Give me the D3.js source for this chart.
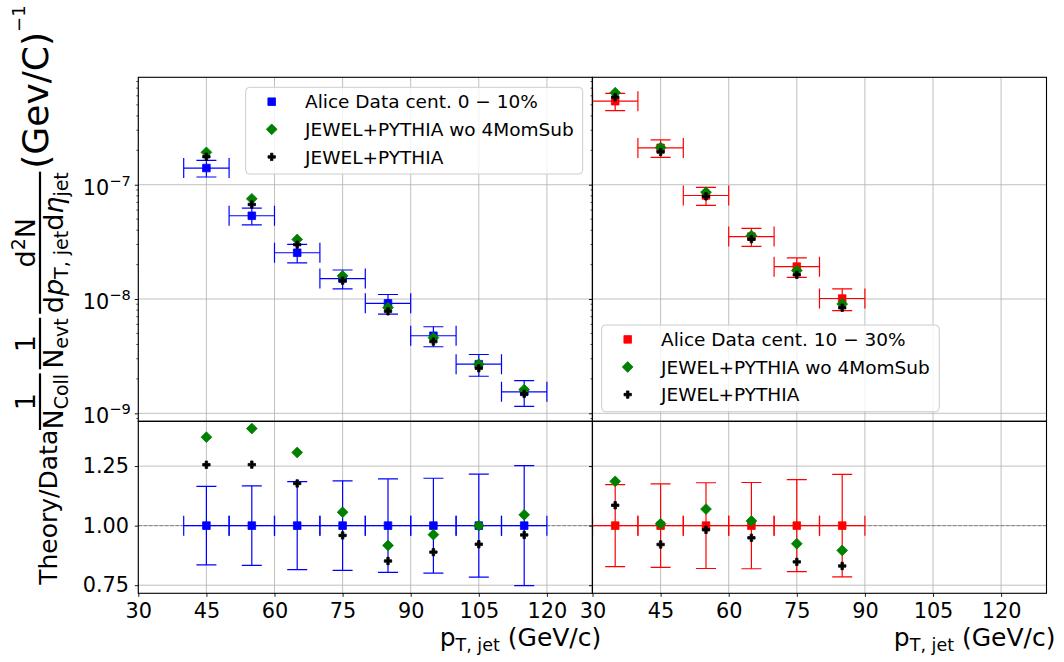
<!DOCTYPE html>
<html><head><meta charset="utf-8">
<script src="https://cdn.jsdelivr.net/npm/d3@7"></script>
<style>
body{margin:0;background:#fff}
svg{display:block}
text{font-family:"DejaVu Sans",sans-serif;fill:#000}
</style>
</head><body>
<svg id="c" width="1064" height="662"></svg>
<script>
// ---------------- data ----------------
const xTickValues = [30, 45, 60, 75, 90, 105, 120];
const logTickValues = [1e-9, 1e-8, 1e-7];
const ratioTickValues = [0.75, 1.00, 1.25];
const binHalfWidth = 5;

const ptCentLeft   = [45, 55, 65, 75, 85, 95, 105, 115];
const dataLeft     = [1.40e-7, 5.35e-8, 2.54e-8, 1.51e-8, 9.16e-9, 4.77e-9, 2.69e-9, 1.54e-9];
const relErrLeft   = [0.165, 0.167, 0.185, 0.188, 0.196, 0.199, 0.216, 0.252];
const jewelWoLeft  = [1.92e-7, 7.53e-8, 3.32e-8, 1.595e-8, 8.40e-9, 4.59e-9, 2.69e-9, 1.61e-9];
const jewelLeft    = [1.758e-7, 6.72e-8, 2.99e-8, 1.448e-8, 7.80e-9, 4.24e-9, 2.48e-9, 1.48e-9];

const ptCentRight  = [35, 45, 55, 65, 75, 85];
const dataRight    = [5.38e-7, 2.10e-7, 8.05e-8, 3.52e-8, 1.92e-8, 1.01e-8];
const relErrRight  = [0.172, 0.175, 0.180, 0.181, 0.193, 0.215];
const jewelWoRight = [6.38e-7, 2.117e-7, 8.61e-8, 3.59e-8, 1.774e-8, 9.05e-9];
const jewelRight   = [5.84e-7, 1.934e-7, 7.91e-8, 3.34e-8, 1.628e-8, 8.39e-9];

const legendLeftLabels  = ["Alice Data cent. 0 \u2212 10%", "JEWEL+PYTHIA wo 4MomSub", "JEWEL+PYTHIA"];
const legendRightLabels = ["Alice Data cent. 10 \u2212 30%", "JEWEL+PYTHIA wo 4MomSub", "JEWEL+PYTHIA"];

// ---------------- layout ----------------
const svg = d3.select("#c");
const TOP = {y0: 77.3, y1: 421.3};
const BOT = {y0: 421.3, y1: 593.3};
const panelX = [[138.3, 592.3], [592.5, 1046.5]];
const tickFont = 20.8;
const GREEN = "#008000";

const yTop = d3.scaleLog().domain([Math.pow(10, -9.07), Math.pow(10, -6.06)]).range([TOP.y1, TOP.y0]);
const yBot = d3.scaleLinear().domain([0.716, 1.438]).range([BOT.y1, BOT.y0]);

const panels = [
  {pt: ptCentLeft, data: dataLeft, err: relErrLeft, wo: jewelWoLeft, jw: jewelLeft, color: "#0000ff",
   legend: legendLeftLabels, box: {x: 245.7, y: 87.3, w: 337, h: 86.7}, yLabels: true},
  {pt: ptCentRight, data: dataRight, err: relErrRight, wo: jewelWoRight, jw: jewelRight, color: "#ff0000",
   legend: legendRightLabels, box: {x: 601.7, y: 325, w: 337.6, h: 86.7}, yLabels: false}
];

// marker paths
function squarePath(s){ const h=s/2; return `M${-h},${-h}H${h}V${h}H${-h}Z`; }
function diamondPath(r){ return `M0,${-r}L${r},0L0,${r}L${-r},0Z`; }
function plusPath(s){
  const pts=[[-1,-3],[1,-3],[1,-1],[3,-1],[3,1],[1,1],[1,3],[-1,3],[-1,1],[-3,1],[-3,-1],[-1,-1]];
  return "M"+pts.map(p=>[p[0]*s/6,p[1]*s/6].join(",")).join("L")+"Z";
}
function marker(g, kind, color, x, y){
  let d;
  if(kind==="square") d=squarePath(7.6);
  else if(kind==="diamond") d=diamondPath(5.4);
  else d=plusPath(7.4);
  g.append("path").attr("d", d).attr("transform", `translate(${x},${y})`)
    .attr("fill", color).attr("stroke", color).attr("stroke-width", 0.8);
}

const defs = svg.append("defs");

panels.forEach((P, i) => {
  const x = d3.scaleLinear().domain([30, 130]).range(panelX[i]);
  const [xl, xr] = panelX[i];
  const cid = "clip" + i;
  defs.append("clipPath").attr("id", cid + "t").append("rect")
    .attr("x", xl).attr("y", TOP.y0).attr("width", xr - xl).attr("height", TOP.y1 - TOP.y0);
  defs.append("clipPath").attr("id", cid + "b").append("rect")
    .attr("x", xl).attr("y", BOT.y0).attr("width", xr - xl).attr("height", BOT.y1 - BOT.y0);

  // grid
  const grid = svg.append("g").attr("stroke", "#b0b0b0").attr("stroke-width", 0.8);
  xTickValues.forEach(v => {
    grid.append("line").attr("x1", x(v)).attr("x2", x(v)).attr("y1", TOP.y0).attr("y2", BOT.y1);
  });
  logTickValues.forEach(v => {
    grid.append("line").attr("x1", xl).attr("x2", xr).attr("y1", yTop(v)).attr("y2", yTop(v));
  });
  ratioTickValues.forEach(v => {
    grid.append("line").attr("x1", xl).attr("x2", xr).attr("y1", yBot(v)).attr("y2", yBot(v));
  });

  // unity dashed line
  svg.append("line").attr("x1", xl).attr("x2", xr).attr("y1", yBot(1)).attr("y2", yBot(1))
    .attr("stroke", "#808080").attr("stroke-width", 1).attr("stroke-dasharray", "3.7,1.6");

  const cap = 10;
  // ---- top panel ----
  const gt = svg.append("g").attr("clip-path", `url(#${cid}t)`);
  const eb = gt.append("g").attr("stroke", P.color).attr("stroke-width", 1.2).attr("fill", "none");
  P.pt.forEach((pt, j) => {
    const cx = x(pt), cy = yTop(P.data[j]);
    const xa = x(pt - binHalfWidth), xb = x(pt + binHalfWidth);
    const ya = yTop(P.data[j] * (1 + P.err[j])), yb = yTop(P.data[j] * (1 - P.err[j]));
    eb.append("line").attr("x1", xa).attr("x2", xb).attr("y1", cy).attr("y2", cy);
    eb.append("line").attr("x1", xa).attr("x2", xa).attr("y1", cy - cap).attr("y2", cy + cap);
    eb.append("line").attr("x1", xb).attr("x2", xb).attr("y1", cy - cap).attr("y2", cy + cap);
    eb.append("line").attr("x1", cx).attr("x2", cx).attr("y1", ya).attr("y2", yb);
    eb.append("line").attr("x1", cx - cap).attr("x2", cx + cap).attr("y1", ya).attr("y2", ya);
    eb.append("line").attr("x1", cx - cap).attr("x2", cx + cap).attr("y1", yb).attr("y2", yb);
  });
  P.pt.forEach((pt, j) => marker(gt, "square", P.color, x(pt), yTop(P.data[j])));
  P.pt.forEach((pt, j) => marker(gt, "diamond", GREEN, x(pt), yTop(P.wo[j])));
  P.pt.forEach((pt, j) => marker(gt, "plus", "#000", x(pt), yTop(P.jw[j])));

  // ---- bottom panel ----
  const gb = svg.append("g").attr("clip-path", `url(#${cid}b)`);
  const eb2 = gb.append("g").attr("stroke", P.color).attr("stroke-width", 1.2).attr("fill", "none");
  P.pt.forEach((pt, j) => {
    const cx = x(pt), cy = yBot(1);
    const xa = x(pt - binHalfWidth), xb = x(pt + binHalfWidth);
    const ya = yBot(1 + P.err[j]), yb = yBot(1 - P.err[j]);
    eb2.append("line").attr("x1", xa).attr("x2", xb).attr("y1", cy).attr("y2", cy);
    eb2.append("line").attr("x1", xa).attr("x2", xa).attr("y1", cy - cap).attr("y2", cy + cap);
    eb2.append("line").attr("x1", xb).attr("x2", xb).attr("y1", cy - cap).attr("y2", cy + cap);
    eb2.append("line").attr("x1", cx).attr("x2", cx).attr("y1", ya).attr("y2", yb);
    eb2.append("line").attr("x1", cx - cap).attr("x2", cx + cap).attr("y1", ya).attr("y2", ya);
    eb2.append("line").attr("x1", cx - cap).attr("x2", cx + cap).attr("y1", yb).attr("y2", yb);
  });
  P.pt.forEach((pt, j) => marker(gb, "square", P.color, x(pt), yBot(1)));
  P.pt.forEach((pt, j) => marker(gb, "diamond", GREEN, x(pt), yBot(P.wo[j] / P.data[j])));
  P.pt.forEach((pt, j) => marker(gb, "plus", "#000", x(pt), yBot(P.jw[j] / P.data[j])));

  // ---- axes ----
  const xa = svg.append("g").attr("transform", `translate(0,${BOT.y1})`)
    .call(d3.axisBottom(x).tickValues(xTickValues).tickSize(3.5).tickPadding(6.4).tickSizeOuter(0));
  xa.select(".domain").remove();
  xa.selectAll("line").attr("stroke", "#000").attr("stroke-width", 0.9);
  xa.selectAll("text").attr("font-size", tickFont).attr("font-family", "DejaVu Sans");

  const ya = svg.append("g").attr("transform", `translate(${xl},0)`)
    .call(d3.axisLeft(yTop).tickValues(logTickValues).tickSize(3.5).tickFormat("").tickSizeOuter(0));
  ya.select(".domain").remove();
  ya.selectAll("line").attr("stroke", "#000").attr("stroke-width", 0.9);
  const minor = [];
  [-10, -9, -8, -7, -6].forEach(e => { for (let m = 2; m <= 9; m++) minor.push(m * Math.pow(10, e)); });
  const dom = yTop.domain();
  minor.filter(v => v >= dom[0] && v <= dom[1]).forEach(v => {
    svg.append("line").attr("x1", xl - 2).attr("x2", xl).attr("y1", yTop(v)).attr("y2", yTop(v))
      .attr("stroke", "#000").attr("stroke-width", 0.7);
  });
  if (P.yLabels) {
    logTickValues.forEach(v => {
      const e = Math.round(Math.log10(v));
      const t = svg.append("text").attr("x", xl - 7.5).attr("y", yTop(v) + 10)
        .attr("text-anchor", "end").attr("font-size", tickFont);
      t.append("tspan").text("10");
      t.append("tspan").attr("dy", -9).attr("font-size", 14.6).text("\u2212" + Math.abs(e));
    });
  }

  const yb = svg.append("g").attr("transform", `translate(${xl},0)`)
    .call(d3.axisLeft(yBot).tickValues(ratioTickValues).tickSize(3.5).tickPadding(5.8)
      .tickFormat(P.yLabels ? d3.format(".2f") : "").tickSizeOuter(0));
  yb.select(".domain").remove();
  yb.selectAll("line").attr("stroke", "#000").attr("stroke-width", 0.9);
  yb.selectAll("text").attr("font-size", tickFont).attr("font-family", "DejaVu Sans");

  // spines
  const sp = svg.append("g").attr("fill", "none").attr("stroke", "#000").attr("stroke-width", 1.1);
  sp.append("rect").attr("x", xl).attr("y", TOP.y0).attr("width", xr - xl).attr("height", TOP.y1 - TOP.y0);
  sp.append("rect").attr("x", xl).attr("y", BOT.y0).attr("width", xr - xl).attr("height", BOT.y1 - BOT.y0);

  // legend
  const b = P.box;
  const lg = svg.append("g");
  lg.append("rect").attr("x", b.x).attr("y", b.y).attr("width", b.w).attr("height", b.h)
    .attr("rx", 4).attr("fill", "#fff").attr("fill-opacity", 0.8)
    .attr("stroke", "#cccccc").attr("stroke-width", 1);
  const kinds = [["square", P.color], ["diamond", GREEN], ["plus", "#000"]];
  P.legend.forEach((lab, k) => {
    const ry = b.y + 14.4 + k * 27.6;
    marker(lg, kinds[k][0], kinds[k][1], b.x + 26, ry);
    lg.append("text").attr("x", b.x + 59.3).attr("y", ry + 6.7).attr("font-size", 18.5).text(lab);
  });

  // x label
  const xlab = svg.append("g");
  let cx = 0;
  [{t: "p", s: 25, dy: 0}, {t: "T, jet", s: 17.5, dy: 5}, {t: "\u00a0(GeV/c)", s: 25, dy: 0}].forEach(p => {
    const t = xlab.append("text").attr("x", cx).attr("y", p.dy).attr("font-size", p.s).text(p.t);
    cx += t.node().getComputedTextLength();
  });
  xlab.attr("transform", `translate(${xr + 9 - cx},646)`);
});

// Theory/Data label
svg.append("text").attr("transform", `translate(57,${(BOT.y0 + BOT.y1) / 2}) rotate(-90)`)
  .attr("text-anchor", "middle").attr("font-size", 25).text("Theory/Data");

// composite y label of top panel
(function(){
  const g = svg.append("g").attr("transform", "translate(48,438) rotate(-90)");
  const barY = -8;
  function runs(pieces, baseline){
    const grp = g.append("g");
    let w = 0;
    pieces.forEach(p => {
      const t = grp.append("text").attr("x", w).attr("y", baseline + (p.dy || 0)).attr("font-size", p.s).text(p.t);
      if (p.it) t.attr("font-style", "italic");
      w += t.node().getComputedTextLength();
    });
    return {grp, w};
  }
  let cursor = 8;
  function frac(num, den, gap){
    const n = runs(num, barY - 5);
    const d = runs(den, barY + 23);
    const w = Math.max(n.w, d.w) + 1;
    const center = cursor + w / 2;
    n.grp.attr("transform", `translate(${center - n.w / 2},0)`);
    d.grp.attr("transform", `translate(${center - d.w / 2},0)`);
    g.append("line").attr("x1", cursor).attr("x2", cursor + w).attr("y1", barY).attr("y2", barY)
      .attr("stroke", "#000").attr("stroke-width", 2.2);
    cursor += w + gap;
  }
  frac([{t: "1", s: 27}], [{t: "N", s: 27}, {t: "Coll", s: 19, dy: 5}], 4);
  frac([{t: "1", s: 27}], [{t: "N", s: 27}, {t: "evt", s: 19, dy: 5}], 4);
  frac([{t: "d", s: 27}, {t: "2", s: 19, dy: -10}, {t: "N", s: 27}],
    [{t: "d", s: 27}, {t: "p", s: 27, it: true}, {t: "T, jet", s: 19, dy: 5},
     {t: "d", s: 27}, {t: "\u03b7", s: 27, it: true}, {t: "jet", s: 19, dy: 5}], 3);
  const u = runs([{t: "(Gev/C)", s: 36}, {t: "\u22121", s: 18, dy: -23}], 0);
  u.grp.attr("transform", `translate(${cursor},0)`);
})();
</script>
</body></html>
